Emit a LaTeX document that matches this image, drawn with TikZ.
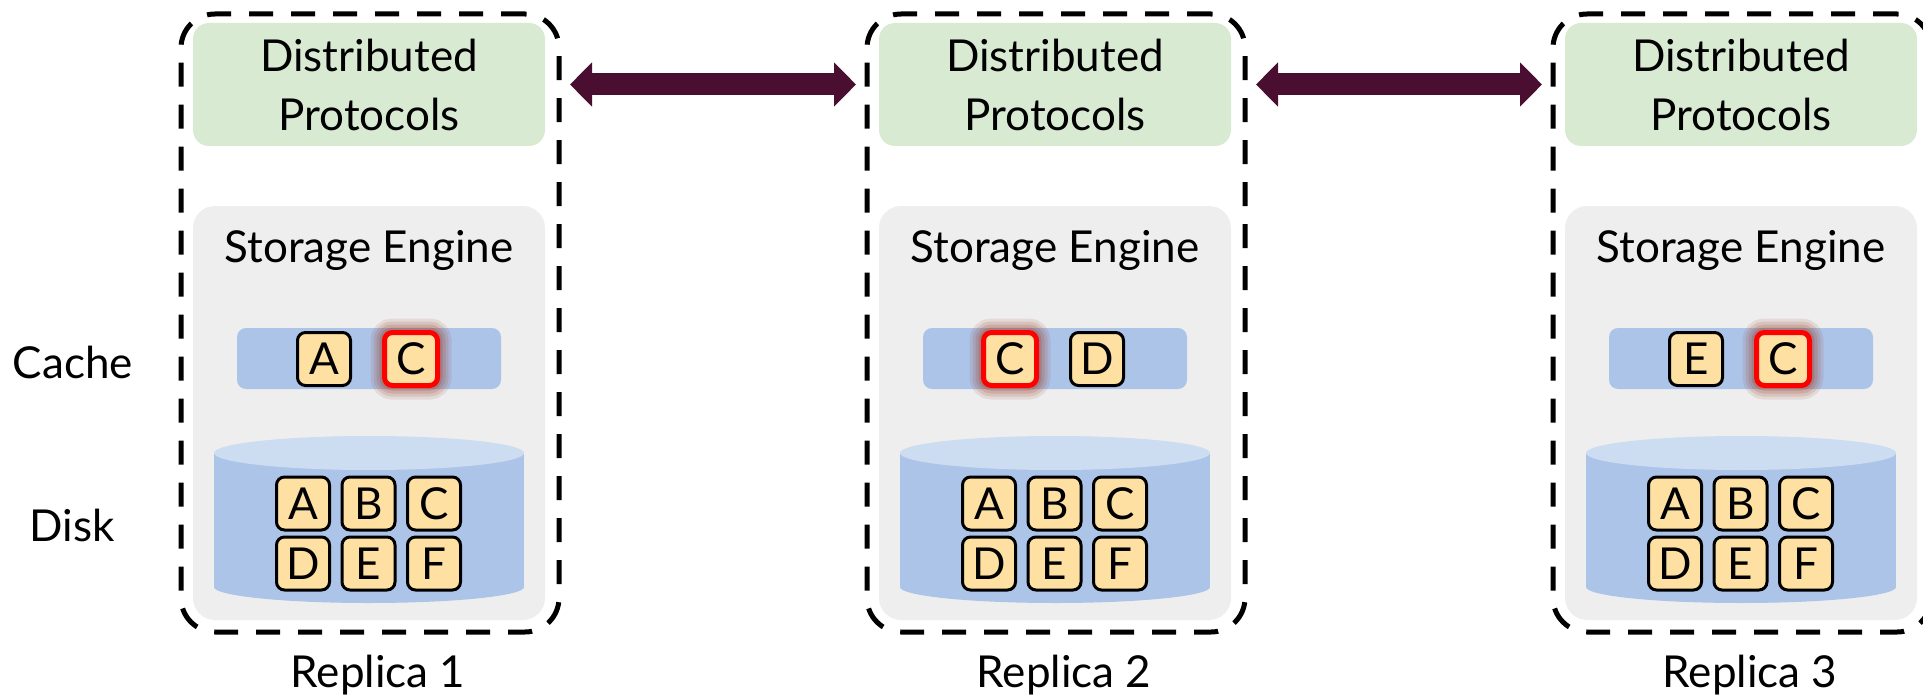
\documentclass[tikz,border=0pt]{standalone}
\usepackage{fontspec}
\setmainfont{Lato}
\usetikzlibrary{arrows.meta,calc}

\definecolor{protofill}{HTML}{D9EAD3}
\definecolor{enginefill}{HTML}{EEEEEE}
\definecolor{cachefill}{HTML}{ADC4E9}
\definecolor{disktop}{HTML}{CCDCF1}
\definecolor{blockfill}{HTML}{FDE0A2}
\definecolor{glowc}{HTML}{9A4530}
\definecolor{linkc}{HTML}{4A0F30}

\newcommand{\bigfont}{\fontsize{44pt}{59pt}\selectfont}

\tikzset{
  replicabox/.style={draw=black, line width=5pt, dash pattern=on 24pt off 18pt,
    rounded corners=34pt, minimum width=378pt, minimum height=618pt, inner sep=0pt},
  protobox/.style={fill=protofill, rounded corners=16pt, minimum width=352pt,
    minimum height=123pt, inner sep=0pt, align=center, font=\bigfont},
  enginebox/.style={fill=enginefill, rounded corners=22pt, minimum width=352pt,
    minimum height=414pt, inner sep=0pt},
  cachebar/.style={fill=cachefill, rounded corners=9pt, minimum width=264pt,
    minimum height=61pt, inner sep=0pt},
  block/.style={draw=black, line width=3pt, fill=blockfill, rounded corners=8pt,
    minimum width=53pt, minimum height=53pt, inner sep=0pt,
    text height=31.5pt, text depth=0pt, font=\bigfont},
  hotblock/.style={block, draw=red, line width=5pt,
    preaction={draw=glowc, draw opacity=0.12, line width=28pt},
    preaction={draw=glowc, draw opacity=0.15, line width=22pt},
    preaction={draw=glowc, draw opacity=0.18, line width=16pt},
    preaction={draw=glowc, draw opacity=0.25, line width=10pt}},
  txt/.style={font=\bigfont, anchor=base, inner sep=0pt},
  link/.style={draw=linkc, line width=22pt,
    {Triangle[length=22pt,width=43pt]}-{Triangle[length=22pt,width=43pt]}}
}

% #1 suffix, #2 left edge, #3 caption, #4/#5 first cached block, #6/#7 second cached block
\newcommand{\replica}[7]{%
  \node[replicabox] (rep#1) at (#2+189,323) {};
  \node[protobox] (proto#1) at (#2+188,84.5) {Distributed\\Protocols};
  \node[enginebox] (eng#1) at (#2+188,413) {};
  \node[txt] (title#1) at (#2+188,262) {Storage Engine};
  \node[cachebar] (bar#1) at (#2+188,358.5) {};
  \node[#4] (c#1a) at (#2+143,359) {#5};
  \node[#6] (c#1b) at (#2+230,359) {#7};
  % disk cylinder
  \fill[cachefill] (#2+33,453) rectangle (#2+343,587);
  \fill[cachefill] (#2+188,587) ellipse [x radius=155pt, y radius=16pt];
  \fill[disktop] (#2+188,453) ellipse [x radius=155pt, y radius=17pt];
  \foreach \lt/\cx/\cy in {A/122/503.5, B/187.5/503.5, C/253/503.5,
                           D/122/563.5, E/187.5/563.5, F/253/563.5}
    \node[block] (d#1\lt) at (#2+\cx,\cy) {\lt};
  \node[txt] (cap#1) at (#2+197,687) {#3};
}

\begin{document}
\begin{tikzpicture}[x=1pt, y=-1pt]
  \useasboundingbox (0,0) rectangle (1923,698);

  \replica{1}{181}{Replica 1}{block}{A}{hotblock}{C}
  \replica{2}{867}{Replica 2}{hotblock}{C}{block}{D}
  \replica{3}{1553}{Replica 3}{block}{E}{hotblock}{C}

  \node[txt] (cachelbl) at (73,378.6) {Cache};
  \node[txt] (disklbl) at (72,541) {Disk};

  \draw[link] ($(rep1.east |- proto1.center)+(8.5,0)$) -- ($(rep2.west |- proto2.center)+(-8.5,0)$);
  \draw[link] ($(rep2.east |- proto2.center)+(8.5,0)$) -- ($(rep3.west |- proto3.center)+(-8.5,0)$);
\end{tikzpicture}
\end{document}
